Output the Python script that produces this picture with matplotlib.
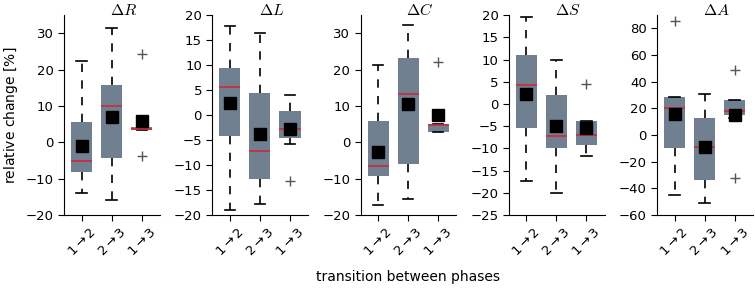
import matplotlib
matplotlib.use("Agg")
import matplotlib.pyplot as plt

# box statistics, one list per panel (order: 1->2, 2->3, 1->3)
titles = [r"$\Delta R$", r"$\Delta L$", r"$\Delta C$", r"$\Delta S$", r"$\Delta A$"]
labels = [r"$1\to2$", r"$2\to3$", r"$1\to3$"]

q1 = [[-8.0, -4.3, 3.3], [-4.2, -12.8, -4.6], [-9.3, -5.8, 3.0], [-5.3, -10.0, -9.2], [-9.5, -33.5, 15.0]]
q3 = [[5.5, 15.7, 4.2], [9.4, 4.4, 0.8], [6.0, 23.2, 5.0], [11.0, 2.0, -3.8], [28.5, 13.0, 26.2]]
med = [[-5.0, 10.0, 3.8], [5.7, -7.2, -2.8], [-6.5, 13.4, 4.8], [4.3, -7.1, -6.9], [20.5, -9.0, 18.0]]
mean = [[-1.0, 7.0, 6.0], [2.4, -3.8, -2.8], [-2.5, 10.5, 7.5], [2.2, -5.0, -5.3], [16.0, -9.0, 15.0]]
wlo = [[-14.0, -15.8, 3.3], [-19.0, -17.8, -5.8], [-17.3, -15.5, 2.8], [-17.3, -20.0, -11.6], [-44.5, -50.8, 12.5]]
whi = [[22.5, 31.5, 4.2], [17.8, 16.4, 4.0], [21.3, 32.3, 5.0], [19.5, 9.8, -3.8], [28.5, 31.0, 26.2]]
fliers = [[[], [], [24.3, -3.7]], [[], [], [-13.2]], [[], [], [22.0]], [[], [], [4.6]], [[85.5], [], [48.5, -32.0]]]

ylims = [(-20, 35), (-20, 20), (-20, 35), (-25, 20), (-60, 90)]
yticks = [range(-20, 31, 10), range(-20, 21, 5), range(-20, 31, 10), range(-25, 21, 5), range(-60, 81, 20)]

box_col = "#708090"

fig, axes = plt.subplots(1, 5, figsize=(7.55, 2.9), dpi=100)
plt.subplots_adjust(left=0.085, right=0.997, top=0.948, bottom=0.258, wspace=0.55)

for i, ax in enumerate(axes):
    stats = []
    for j in range(3):
        stats.append(dict(q1=q1[i][j], q3=q3[i][j], med=med[i][j], mean=mean[i][j],
                          whislo=wlo[i][j], whishi=whi[i][j], fliers=fliers[i][j]))
    ax.bxp(stats, positions=[1, 2, 3], widths=0.7, patch_artist=True, showmeans=True,
           boxprops=dict(facecolor=box_col, edgecolor=box_col, linewidth=0),
           medianprops=dict(color="#d0283a", linewidth=1.2),
           whiskerprops=dict(color="black", linestyle=(0, (5, 5)), linewidth=1.2),
           capprops=dict(color="black", linewidth=1.2),
           meanprops=dict(marker="s", markerfacecolor="black", markeredgecolor="black", markersize=8),
           flierprops=dict(marker="+", markeredgecolor="#555555", markersize=7))
    ax.set_xlim(0.42, 3.6)
    ax.set_ylim(*ylims[i])
    ax.set_yticks(list(yticks[i]))
    ax.set_xticks([1, 2, 3])
    ax.set_xticklabels(labels, rotation=45, ha="center", fontsize=9.5)
    ax.tick_params(labelsize=9.5, direction="out", length=4)
    ax.spines["top"].set_visible(False)
    ax.spines["right"].set_visible(False)
    ax.text(0.62, 0.985, titles[i], transform=ax.transAxes, ha="center", va="bottom",
            fontsize=11.5, math_fontfamily="cm")

axes[0].set_ylabel(r"relative change $[\%]$", fontsize=10)
fig.text(0.54, 0.03, "transition between phases", ha="center", fontsize=10)

fig.savefig("out.png", dpi=100)
